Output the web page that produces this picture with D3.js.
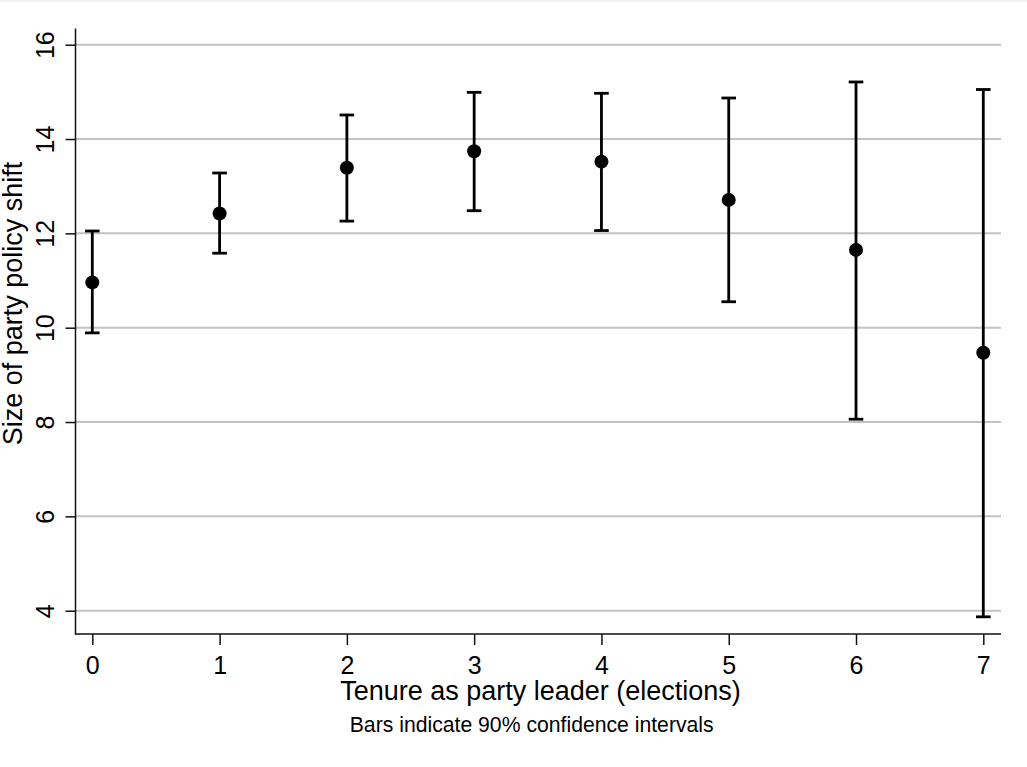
<!DOCTYPE html>
<html>
<head>
<meta charset="utf-8">
<script src="https://cdn.jsdelivr.net/npm/d3@7"></script>
<style>
  html, body { margin: 0; padding: 0; background: #fff; }
  svg { display: block; font-family: "Liberation Sans", Arial, Helvetica, sans-serif; }
</style>
</head>
<body>
<script>
// Tenure (number of elections as leader) and estimated size of policy shift
const tenure = [0, 1, 2, 3, 4, 5, 6, 7];
const estimate = [10.96, 12.42, 13.39, 13.74, 13.52, 12.71, 11.65, 9.47];
const upper90 = [12.05, 13.28, 14.51, 14.99, 14.97, 14.87, 15.21, 15.05];
const lower90 = [9.89, 11.58, 12.26, 12.48, 12.06, 10.55, 8.06, 3.87];
const yTicks = [4, 6, 8, 10, 12, 14, 16];
const xTicks = [0, 1, 2, 3, 4, 5, 6, 7];

const W = 1027, H = 767;
const frame = { left: 75.5, right: 1001, top: 28.5, bottom: 634 };

const svg = d3.select("body").append("svg")
  .attr("width", W).attr("height", H);

svg.append("rect").attr("width", W).attr("height", H).attr("fill", "#fff");
svg.append("rect").attr("width", W).attr("height", 2).attr("fill", "#eef2f5");

const x = d3.scaleLinear().domain([0, 7]).range([92.3, 983.3]);
const y = d3.scaleLinear().domain([4, 16]).range([610.7, 44.7]);

// horizontal grid
svg.append("g").selectAll("line").data(yTicks).join("line")
  .attr("x1", frame.left).attr("x2", frame.right)
  .attr("y1", d => y(d)).attr("y2", d => y(d))
  .attr("stroke", "#c2c2c2").attr("stroke-width", 2);

// y axis
const yAxis = svg.append("g")
  .attr("transform", `translate(${frame.left},0)`)
  .call(d3.axisLeft(y).tickValues(yTicks).tickSize(10).tickPadding(0).tickFormat(d3.format("d")));
yAxis.select(".domain").remove();
yAxis.selectAll(".tick line").attr("stroke", "#111").attr("stroke-width", 1.5);
yAxis.selectAll(".tick text")
  .attr("x", null).attr("dy", null)
  .attr("transform", "translate(-21.5,0) rotate(-90)")
  .attr("text-anchor", "middle")
  .attr("fill", "#000")
  .style("font-size", "25px");

// x axis
const xAxis = svg.append("g")
  .attr("transform", `translate(0,${frame.bottom})`)
  .call(d3.axisBottom(x).tickValues(xTicks).tickSize(11).tickPadding(0).tickFormat(d3.format("d")));
xAxis.select(".domain").remove();
xAxis.selectAll(".tick line").attr("stroke", "#111").attr("stroke-width", 1.5);
xAxis.selectAll(".tick text")
  .attr("y", 40.3).attr("dy", null)
  .attr("fill", "#000")
  .style("font-size", "25px");

// frame lines (left and bottom)
svg.append("line")
  .attr("x1", frame.left).attr("x2", frame.left)
  .attr("y1", frame.top).attr("y2", frame.bottom + 0.75)
  .attr("stroke", "#111").attr("stroke-width", 1.5);
svg.append("line")
  .attr("x1", frame.left).attr("x2", frame.right)
  .attr("y1", frame.bottom).attr("y2", frame.bottom)
  .attr("stroke", "#111").attr("stroke-width", 1.5);

// confidence interval bars
const rows = tenure.map((t, i) => ({ t, est: estimate[i], hi: upper90[i], lo: lower90[i] }));
const capHalf = 7.3;
const bars = svg.append("g").attr("stroke", "#000").attr("stroke-width", 2.8);
bars.selectAll(".stem").data(rows).join("line")
  .attr("x1", d => x(d.t)).attr("x2", d => x(d.t))
  .attr("y1", d => y(d.hi)).attr("y2", d => y(d.lo));
bars.selectAll(".cap-hi").data(rows).join("line")
  .attr("x1", d => x(d.t) - capHalf).attr("x2", d => x(d.t) + capHalf)
  .attr("y1", d => y(d.hi)).attr("y2", d => y(d.hi));
bars.selectAll(".cap-lo").data(rows).join("line")
  .attr("x1", d => x(d.t) - capHalf).attr("x2", d => x(d.t) + capHalf)
  .attr("y1", d => y(d.lo)).attr("y2", d => y(d.lo));

// point estimates
svg.append("g").selectAll("circle").data(rows).join("circle")
  .attr("cx", d => x(d.t)).attr("cy", d => y(d.est))
  .attr("r", 7).attr("fill", "#000");

// titles and note
svg.append("text")
  .attr("transform", "translate(21.7,303.5) rotate(-90)")
  .attr("text-anchor", "middle")
  .style("font-size", "27px")
  .text("Size of party policy shift");

svg.append("text")
  .attr("x", 540.5).attr("y", 700.3)
  .attr("text-anchor", "middle")
  .style("font-size", "27px")
  .text("Tenure as party leader (elections)");

svg.append("text")
  .attr("x", 531.7).attr("y", 732.3)
  .attr("text-anchor", "middle")
  .style("font-size", "21.2px")
  .text("Bars indicate 90% confidence intervals");
</script>
</body>
</html>
